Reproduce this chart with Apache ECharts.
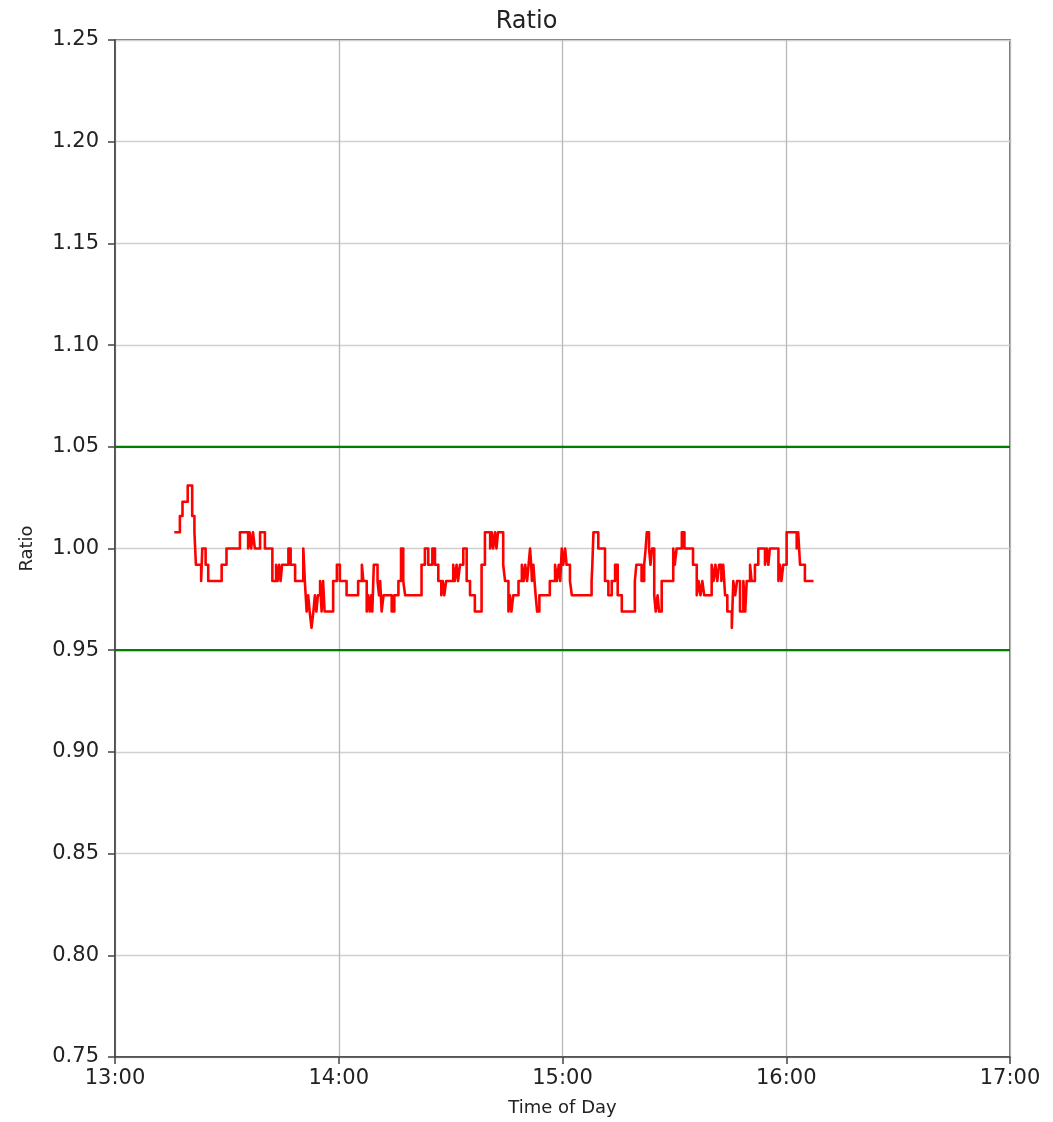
<!DOCTYPE html>
<html>
<head>
<meta charset="utf-8">
<script src="https://cdn.jsdelivr.net/npm/echarts@6/dist/echarts.min.js"></script>
<style>
html,body{margin:0;padding:0;background:#fff;}
#chart{width:1053px;height:1122px;}
</style>
</head>
<body>
<div id="chart"></div>
<script>
// x = minutes after 13:00, y = ratio (value holds until the next reading)
var ratioSeries = [
[15.9,1.008],[17.4,1.016],[18.1,1.023],[19.5,1.031],[20.7,1.016],[21.3,1.008],[21.7,0.992],[23.1,0.984],[23.4,1.000],[24.3,0.992],[25.0,0.984],[28.6,0.992],[29.9,1.000],[33.5,1.008],[35.7,1.000],[36.1,1.008],[36.5,1.000],[37.0,1.008],[37.5,1.000],[38.9,1.008],[40.2,1.000],[42.2,0.984],[43.2,0.992],[43.6,0.984],[44.0,0.992],[44.4,0.984],[44.8,0.992],[46.5,1.000],[47.1,0.992],[48.3,0.984],[50.5,1.000],[50.9,0.984],[51.4,0.969],[51.8,0.977],[52.2,0.969],[52.7,0.961],[53.2,0.969],[53.6,0.977],[54.0,0.969],[54.4,0.977],[55.0,0.984],[55.4,0.969],[55.8,0.984],[56.2,0.969],[58.5,0.984],[59.5,0.992],[60.3,0.984],[62.1,0.977],[65.2,0.984],[66.2,0.992],[66.6,0.984],[67.5,0.969],[67.9,0.977],[68.3,0.969],[68.7,0.977],[69.0,0.969],[69.4,0.992],[70.4,0.984],[70.8,0.977],[71.1,0.984],[71.5,0.969],[72.0,0.977],[74.2,0.969],[74.9,0.977],[76.0,0.984],[76.7,1.000],[77.3,0.984],[77.8,0.977],[82.2,0.992],[83.1,1.000],[84.0,0.992],[85.1,1.000],[85.8,0.992],[86.7,0.984],[87.5,0.977],[87.9,0.984],[88.3,0.977],[88.8,0.984],[90.7,0.992],[91.1,0.984],[91.6,0.992],[92.0,0.984],[92.5,0.992],[93.4,1.000],[94.3,0.984],[95.2,0.977],[96.5,0.969],[98.3,0.992],[99.2,1.008],[100.6,1.000],[101.0,1.008],[101.4,1.000],[101.9,1.008],[102.3,1.000],[102.7,1.008],[104.1,0.992],[104.6,0.984],[105.5,0.969],[105.9,0.977],[106.3,0.969],[106.8,0.977],[108.2,0.984],[109.1,0.992],[109.6,0.984],[110.0,0.992],[110.5,0.984],[110.9,0.992],[111.3,1.000],[111.6,0.992],[111.8,0.984],[112.2,0.992],[112.5,0.984],[112.8,0.977],[113.2,0.969],[113.8,0.977],[116.6,0.984],[118.0,0.992],[118.5,0.984],[119.0,0.992],[119.4,0.984],[119.8,1.000],[120.2,0.992],[120.7,1.000],[121.1,0.992],[122.0,0.984],[122.5,0.977],[127.8,0.984],[128.0,0.992],[128.3,1.008],[129.6,1.000],[131.4,0.984],[132.3,0.977],[133.2,0.984],[134.1,0.992],[134.8,0.977],[135.9,0.969],[139.4,0.984],[139.8,0.992],[141.2,0.984],[141.9,0.992],[142.3,1.000],[142.6,1.008],[143.2,1.000],[143.6,0.992],[144.0,1.000],[144.6,0.977],[145.0,0.969],[145.5,0.977],[145.9,0.969],[146.6,0.984],[149.7,1.000],[150.1,0.992],[150.6,1.000],[152.0,1.008],[152.7,1.000],[155.0,0.992],[156.0,0.977],[156.5,0.984],[157.0,0.977],[157.5,0.984],[158.0,0.977],[160.0,0.992],[160.5,0.984],[161.0,0.992],[161.5,0.984],[162.0,0.992],[162.6,0.984],[163.1,0.992],[163.6,0.977],[164.2,0.969],[165.4,0.961],[165.8,0.984],[166.3,0.977],[166.8,0.984],[167.6,0.969],[168.5,0.984],[169.0,0.969],[169.4,0.984],[170.3,0.992],[170.7,0.984],[171.6,0.992],[172.5,1.000],[174.3,0.992],[174.8,1.000],[175.2,0.992],[175.6,1.000],[177.9,0.984],[178.3,0.992],[178.7,0.984],[179.2,0.992],[180.1,1.008],[182.8,1.000],[183.2,1.008],[183.7,0.992],[185.0,0.984],[187.3,0.984]
];
var upperLimit = 1.05;
var lowerLimit = 0.95;
var xTickLabels = ['13:00', '14:00', '15:00', '16:00', '17:00'];
var xMin = 0, xMax = 240, xStep = 60;
var yMin = 0.75, yMax = 1.25, yStep = 0.05;

// expand the readings into a held-value (stair) path
var stairData = [];
for (var i = 0; i < ratioSeries.length; i++) {
  stairData.push([ratioSeries[i][0], ratioSeries[i][1]]);
  if (i + 1 < ratioSeries.length) {
    stairData.push([ratioSeries[i + 1][0], ratioSeries[i][1]]);
  }
}

var font = 'DejaVu Sans';
var chart = echarts.init(document.getElementById('chart'), null, {renderer: 'canvas'});
chart.setOption({
  animation: false,
  backgroundColor: '#ffffff',
  title: {
    text: 'Ratio', left: 'center', top: 5,
    textStyle: {fontFamily: font, fontSize: 24, fontWeight: 'normal', color: '#222'}
  },
  grid: {left: 115, right: 43, top: 40, bottom: 64, show: true, borderColor: '#444', borderWidth: 1.5, backgroundColor: 'transparent'},
  xAxis: {
    type: 'value', min: xMin, max: xMax, interval: xStep,
    name: 'Time of Day', nameLocation: 'middle', nameGap: 42,
    nameTextStyle: {fontFamily: font, fontSize: 18, color: '#222'},
    axisLine: {show: true, onZero: false, lineStyle: {color: '#444', width: 1.5}},
    axisTick: {show: true, length: 7, lineStyle: {color: '#444', width: 1.5}},
    axisLabel: {fontFamily: font, fontSize: 21, color: '#222', margin: 11,
      formatter: function (v) { return xTickLabels[Math.round((v - xMin) / xStep)]; }},
    splitLine: {show: true, lineStyle: {color: '#b8b8b8', width: 1.3}}
  },
  yAxis: {
    type: 'value', min: yMin, max: yMax, interval: yStep,
    name: 'Ratio', nameLocation: 'middle', nameGap: 79, nameRotate: 90,
    nameTextStyle: {fontFamily: font, fontSize: 18, color: '#222'},
    axisLine: {show: true, lineStyle: {color: '#444', width: 1.5}},
    axisTick: {show: true, length: 7, lineStyle: {color: '#444', width: 1.5}},
    axisLabel: {fontFamily: font, fontSize: 21, color: '#222', margin: 16,
      formatter: function (v) { return v.toFixed(2); }},
    splitLine: {show: true, lineStyle: {color: '#d0d0d0', width: 1.3}}
  },
  series: [
    {
      type: 'line', name: 'upper', data: [[xMin, upperLimit], [xMax, upperLimit]],
      showSymbol: false, symbol: 'none', lineStyle: {color: '#008000', width: 2.2}, z: 3
    },
    {
      type: 'line', name: 'lower', data: [[xMin, lowerLimit], [xMax, lowerLimit]],
      showSymbol: false, symbol: 'none', lineStyle: {color: '#008000', width: 2.2}, z: 3
    },
    {
      type: 'line', name: 'Ratio', data: stairData,
      showSymbol: false, symbol: 'none',
      lineStyle: {color: '#ff0000', width: 2.6, join: 'round', cap: 'butt'}, z: 4
    }
  ]
});
</script>
</body>
</html>
